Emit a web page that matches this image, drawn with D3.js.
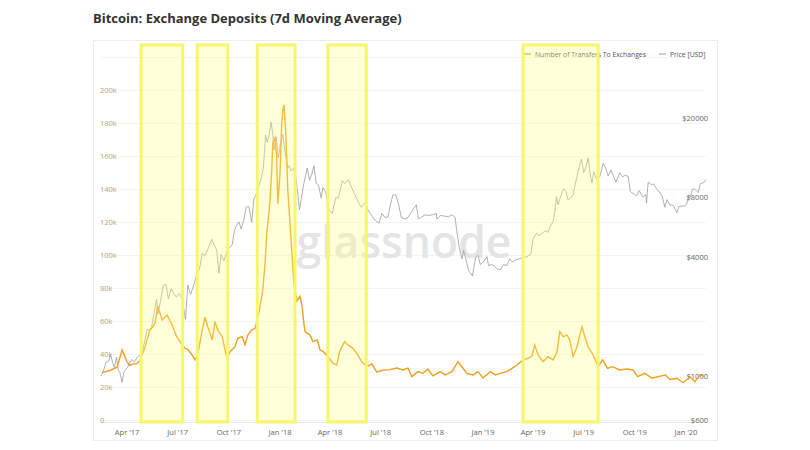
<!DOCTYPE html>
<html><head><meta charset="utf-8">
<script src="https://cdn.jsdelivr.net/npm/d3@7"></script>
<style>body{margin:0;background:#fff}svg{display:block}</style>
</head><body><svg id="c" width="810" height="450"></svg>
<script>
const chartTitle = "Bitcoin: Exchange Deposits (7d Moving Average)";
const seriesNames = ["Number of Transfers To Exchanges", "Price [USD]"];
const watermark = "glassnode";

const transferDates = ["2017-02-16","2017-03-02","2017-03-15","2017-03-24","2017-04-02","2017-04-07","2017-04-12","2017-04-19","2017-04-25","2017-05-04","2017-05-13","2017-05-18","2017-05-22","2017-05-27","2017-06-04","2017-06-13","2017-06-22","2017-06-30","2017-07-10","2017-07-15","2017-07-20","2017-07-28","2017-08-02","2017-08-07","2017-08-14","2017-08-20","2017-08-25","2017-09-02","2017-09-07","2017-09-12","2017-09-20","2017-09-25","2017-09-29","2017-10-04","2017-10-13","2017-10-18","2017-10-26","2017-10-31","2017-11-05","2017-11-12","2017-11-18","2017-11-23","2017-11-30","2017-12-02","2017-12-06","2017-12-09","2017-12-11","2017-12-15","2017-12-18","2017-12-20","2017-12-24","2017-12-27","2017-12-29","2018-01-02","2018-01-05","2018-01-07","2018-01-09","2018-01-12","2018-01-16","2018-01-23","2018-01-27","2018-02-01","2018-02-07","2018-02-11","2018-02-14","2018-02-16","2018-02-25","2018-03-02","2018-03-10","2018-03-15","2018-03-21","2018-03-30","2018-04-07","2018-04-14","2018-04-19","2018-04-28","2018-05-04","2018-05-13","2018-05-20","2018-05-29","2018-06-07","2018-06-16","2018-06-25","2018-07-06","2018-07-19","2018-07-31","2018-08-11","2018-08-20","2018-08-27","2018-09-07","2018-09-16","2018-09-25","2018-10-04","2018-10-17","2018-10-26","2018-11-07","2018-11-18","2018-11-25","2018-12-04","2018-12-15","2018-12-24","2019-01-02","2019-01-15","2019-01-24","2019-02-02","2019-02-14","2019-02-23","2019-03-04","2019-03-15","2019-03-24","2019-03-31","2019-04-05","2019-04-11","2019-04-20","2019-04-29","2019-05-08","2019-05-15","2019-05-20","2019-05-26","2019-06-02","2019-06-07","2019-06-13","2019-06-20","2019-06-25","2019-06-29","2019-07-04","2019-07-10","2019-07-19","2019-07-28","2019-08-05","2019-08-14","2019-08-23","2019-09-05","2019-09-18","2019-09-29","2019-10-07","2019-10-20","2019-11-02","2019-11-13","2019-11-26","2019-12-04","2019-12-17","2019-12-28","2020-01-09","2020-01-18","2020-01-27","2020-02-05"];
const transferValues = [28700,30000,32000,42500,35000,33000,34000,34000,36000,44000,54500,56500,58700,69000,60600,63600,57600,50500,45500,43400,42800,39400,36400,39400,52700,62400,56500,48500,59600,54500,50500,42400,37400,41400,44400,49500,50500,45500,51500,54500,55600,61600,74700,79000,95000,113000,119000,133000,151000,168000,171000,159000,131000,150000,180000,188000,191000,176000,139000,103000,83000,72000,75000,68000,58000,53500,51500,47500,48500,42400,41400,38000,34400,33300,41400,47500,45500,43400,40400,35300,32300,34000,29000,30300,30500,31500,30300,31500,26300,29300,28300,30900,26700,29300,27300,29300,35300,32300,28300,27300,29300,25500,29300,27300,28300,29300,31300,33300,36400,37400,38800,45500,39400,35300,38400,36400,41400,53500,50500,51500,48500,38400,44400,51500,56500,50500,44400,39400,32300,36400,31300,32300,30300,30900,30300,26300,28300,25300,26300,27300,24600,25300,22600,26300,23200,27300,26300];

const priceDates = ["2017-02-14","2017-02-18","2017-02-23","2017-02-28","2017-03-03","2017-03-08","2017-03-10","2017-03-14","2017-03-17","2017-03-20","2017-03-24","2017-03-27","2017-03-31","2017-04-05","2017-04-10","2017-04-15","2017-04-20","2017-04-25","2017-04-30","2017-05-04","2017-05-08","2017-05-12","2017-05-16","2017-05-20","2017-05-25","2017-05-27","2017-05-31","2017-06-06","2017-06-11","2017-06-15","2017-06-20","2017-06-25","2017-06-30","2017-07-05","2017-07-10","2017-07-16","2017-07-20","2017-07-25","2017-07-31","2017-08-05","2017-08-10","2017-08-15","2017-08-20","2017-08-25","2017-09-01","2017-09-05","2017-09-10","2017-09-14","2017-09-18","2017-09-23","2017-09-28","2017-10-02","2017-10-08","2017-10-12","2017-10-16","2017-10-20","2017-10-24","2017-10-29","2017-11-02","2017-11-07","2017-11-12","2017-11-16","2017-11-20","2017-11-26","2017-11-29","2017-12-03","2017-12-07","2017-12-10","2017-12-13","2017-12-17","2017-12-20","2017-12-22","2017-12-26","2017-12-30","2018-01-03","2018-01-07","2018-01-11","2018-01-16","2018-01-18","2018-01-22","2018-01-26","2018-01-30","2018-02-02","2018-02-06","2018-02-10","2018-02-14","2018-02-20","2018-02-24","2018-02-28","2018-03-04","2018-03-08","2018-03-12","2018-03-17","2018-03-20","2018-03-25","2018-03-31","2018-04-06","2018-04-12","2018-04-17","2018-04-24","2018-04-28","2018-05-05","2018-05-10","2018-05-16","2018-05-23","2018-05-28","2018-06-04","2018-06-10","2018-06-15","2018-06-22","2018-06-29","2018-07-04","2018-07-10","2018-07-15","2018-07-20","2018-07-24","2018-07-29","2018-08-03","2018-08-08","2018-08-14","2018-08-20","2018-08-26","2018-09-04","2018-09-08","2018-09-12","2018-09-20","2018-09-26","2018-10-03","2018-10-10","2018-10-11","2018-10-18","2018-10-25","2018-11-01","2018-11-07","2018-11-13","2018-11-15","2018-11-20","2018-11-25","2018-11-28","2018-12-03","2018-12-07","2018-12-14","2018-12-20","2018-12-24","2018-12-28","2019-01-04","2019-01-09","2019-01-12","2019-01-17","2019-01-22","2019-01-28","2019-02-03","2019-02-08","2019-02-14","2019-02-19","2019-02-24","2019-03-01","2019-03-08","2019-03-15","2019-03-22","2019-03-29","2019-04-02","2019-04-08","2019-04-14","2019-04-20","2019-04-25","2019-04-29","2019-05-03","2019-05-08","2019-05-12","2019-05-14","2019-05-17","2019-05-21","2019-05-27","2019-05-31","2019-06-04","2019-06-08","2019-06-13","2019-06-17","2019-06-22","2019-06-26","2019-06-28","2019-07-02","2019-07-06","2019-07-10","2019-07-14","2019-07-17","2019-07-20","2019-07-25","2019-07-31","2019-08-06","2019-08-10","2019-08-15","2019-08-20","2019-08-25","2019-08-29","2019-09-05","2019-09-10","2019-09-15","2019-09-20","2019-09-24","2019-09-30","2019-10-05","2019-10-10","2019-10-16","2019-10-22","2019-10-23","2019-10-26","2019-11-01","2019-11-05","2019-11-10","2019-11-15","2019-11-20","2019-11-25","2019-11-29","2019-12-04","2019-12-10","2019-12-17","2019-12-20","2019-12-26","2019-12-31","2020-01-03","2020-01-07","2020-01-10","2020-01-14","2020-01-19","2020-01-24","2020-01-28","2020-02-01","2020-02-05","2020-02-07"];
const priceValues = [1000,1055,1170,1190,1280,1150,1100,1245,1070,1040,930,1045,1080,1135,1210,1180,1240,1280,1350,1520,1720,1700,1760,2050,2440,2050,2300,2860,2900,2450,2750,2600,2500,2610,2430,1930,2870,2580,2880,3250,3450,4150,4050,4340,4900,4600,4330,3300,4100,3800,4200,4400,4600,5430,5750,6000,5500,6150,7100,7150,5950,7850,8200,9300,9900,11250,16400,15000,16300,19100,16500,13800,16000,12600,15100,16500,13400,11200,11500,10800,11200,10100,8800,6900,8100,9400,11200,9700,10400,11500,9400,9200,7900,8900,8500,6900,6600,7900,7900,9650,9350,9800,9000,8300,7500,7100,7500,6800,6500,6100,5900,6600,6300,6350,7400,8200,8200,7400,6300,6200,6300,6700,7300,6200,6300,6500,6450,6500,6600,6200,6450,6400,6350,6500,6300,5600,4500,3900,4300,3800,3400,3200,4000,4050,3650,3800,4000,3600,3650,3600,3450,3450,3650,3600,3900,3750,3850,3900,3950,4000,4100,4900,5250,5100,5300,5400,5300,5700,6000,7000,8000,7300,7950,8800,8550,7700,7900,8200,9300,10700,11900,12400,10600,11300,12600,10300,9400,10700,9900,10100,11800,11300,10200,10900,10100,9500,10600,10100,10300,10150,8500,8300,8100,8600,8000,8200,7450,9500,9200,9300,8800,8500,8100,7100,7750,7300,7250,6650,7150,7200,7200,7350,8150,8000,8800,8700,8400,9350,9400,9600,9800];

const highlightStarts = ["2017-04-27","2017-08-06","2017-11-22","2018-03-29","2019-03-15"];
const highlightEnds   = ["2017-07-11","2017-09-30","2018-01-29","2018-06-06","2019-07-28"];

const leftTicks = [0,20000,40000,60000,80000,100000,120000,140000,160000,180000,200000];
const gridTicks = [0,20000,40000,60000,80000,100000,120000,140000,160000,180000,200000,220000];
const rightTicks = [600,1000,4000,8000,20000];
const xTickDates = ["2017-04-01","2017-07-01","2017-10-01","2018-01-01","2018-04-01","2018-07-01","2018-10-01","2019-01-01","2019-04-01","2019-07-01","2019-10-01","2020-01-01"];

const parse = d3.utcParse("%Y-%m-%d");
const svg = d3.select("#c");
const FONT = "'Open Sans', 'Noto Sans', sans-serif";

const x = d3.scaleUtc().domain([parse("2017-02-14"), parse("2020-02-07")]).range([101, 706]);
const yL = d3.scaleLinear().domain([0, 220000]).range([420, 57]);
const yR = d3.scaleLog().domain([600, 20000]).range([420, 118]);

// frame
svg.append("rect").attr("x",93.5).attr("y",40.5).attr("width",624).attr("height",400)
  .attr("fill","#fff").attr("stroke","#ececec").attr("stroke-width",1);

// title
const t = svg.append("text").attr("x",93).attr("y",23).text(chartTitle)
  .attr("font-family","'Open Sans', 'Liberation Sans', sans-serif").attr("font-weight","bold")
  .attr("font-size",14).attr("fill","#333");
const tw = t.node().getComputedTextLength();
t.attr("font-size", 14*309/tw);

// gridlines
svg.append("g").attr("transform","translate(101,0)")
  .call(d3.axisLeft(yL).tickValues(gridTicks).tickSize(-605).tickFormat(""))
  .call(g=>g.select(".domain").remove())
  .call(g=>g.selectAll("line").attr("stroke","#f0f0f0").attr("stroke-width",0.8));

// watermark
const wm = svg.append("text").attr("x",404).attr("y",258).attr("text-anchor","middle")
  .text(watermark).attr("font-family","'Open Sans', sans-serif").attr("font-weight",600)
  .attr("font-size",46).attr("fill","#e4e4e4");
const ww = wm.node().getComputedTextLength();
wm.attr("font-size", 46*215/ww);

// bottom axis
const xa = svg.append("g").attr("transform","translate(0,422)")
  .call(d3.axisBottom(x).tickValues(xTickDates.map(parse)).tickSize(0).tickPadding(8)
    .tickFormat(d3.utcFormat("%b '%y")));
xa.select(".domain").attr("stroke","#e6e6e6");
xa.selectAll("text").attr("font-family",FONT).attr("font-size",7.5).attr("fill","#666");

// left axis labels
const la = svg.append("g").attr("transform","translate(97,0)")
  .call(d3.axisRight(yL).tickValues(leftTicks).tickSize(0).tickPadding(3)
    .tickFormat(d => d===0 ? "0" : (d/1000)+"k"));
la.select(".domain").remove();
la.selectAll("text").attr("font-family",FONT).attr("font-size",7.5).attr("fill","#b8a47c");

// right axis labels
const ra = svg.append("g").attr("transform","translate(708,0)")
  .call(d3.axisLeft(yR).tickValues(rightTicks).tickSize(0).tickPadding(0)
    .tickFormat(d => "$"+d));
ra.select(".domain").remove();
ra.selectAll("text").attr("font-family",FONT).attr("font-size",7.5).attr("fill","#666");

// lines
const priceData = priceDates.map((d,i)=>({d:parse(d), v:priceValues[i]}));
const transferData = transferDates.map((d,i)=>({d:parse(d), v:transferValues[i]}));

svg.append("path").datum(priceData)
  .attr("d", d3.line().x(p=>x(p.d)).y(p=>yR(p.v)))
  .attr("fill","none").attr("stroke","#9c9c9c").attr("stroke-width",0.8);

svg.append("path").datum(transferData)
  .attr("d", d3.line().x(p=>x(p.d)).y(p=>yL(p.v)))
  .attr("fill","none").attr("stroke","#efa01c").attr("stroke-width",1.4);

// legend
const lg = svg.append("g").attr("font-family",FONT).attr("font-size",6.8).attr("fill","#555");
lg.append("line").attr("x1",524).attr("x2",531).attr("y1",54).attr("y2",54).attr("stroke","#efa01c").attr("stroke-width",1.4);
lg.append("text").attr("x",535).attr("y",56.5).text(seriesNames[0]);
lg.append("line").attr("x1",659).attr("x2",666).attr("y1",54).attr("y2",54).attr("stroke","#9c9c9c").attr("stroke-width",1);
lg.append("text").attr("x",670).attr("y",56.5).text(seriesNames[1]);

// highlight annotations
svg.append("g").selectAll("rect").data(highlightStarts.map((s,i)=>[parse(s), parse(highlightEnds[i])]))
  .join("rect")
  .attr("x", d=>x(d[0])).attr("width", d=>x(d[1])-x(d[0]))
  .attr("y",45).attr("height",377)
  .attr("fill","rgba(255,255,130,0.3)").attr("stroke","#f6f66a").attr("stroke-width",3);
</script></body></html>
